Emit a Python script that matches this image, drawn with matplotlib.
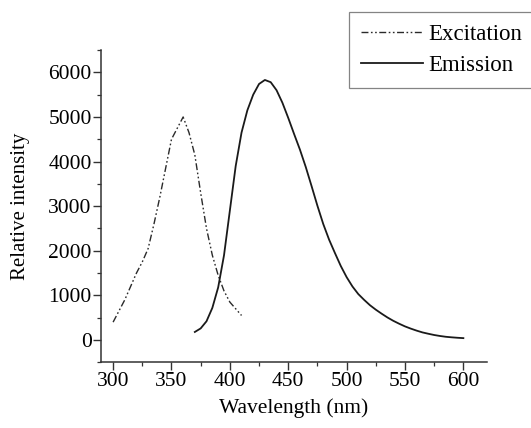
import matplotlib
matplotlib.use("Agg")
import matplotlib.pyplot as plt
from matplotlib.ticker import MultipleLocator

plt.rcParams['font.family'] = ['Liberation Serif', 'DejaVu Serif']

# Excitation spectrum
exc_wl = [300, 305, 310, 315, 320, 325, 330, 335, 340, 345, 350, 355, 360,
          365, 370, 375, 380, 385, 390, 395, 400, 405, 410]
exc_int = [400, 650, 900, 1200, 1500, 1750, 2050, 2600, 3200, 3850, 4500, 4750, 5000,
           4650, 4150, 3300, 2500, 1900, 1450, 1100, 850, 700, 550]

# Emission spectrum
em_wl = [370, 375, 380, 385, 390, 395, 400, 405, 410, 415, 420, 425, 430, 435,
         440, 445, 450, 455, 460, 465, 470, 475, 480, 485, 490, 495, 500, 505,
         510, 515, 520, 525, 530, 535, 540, 545, 550, 555, 560, 565, 570, 575,
         580, 585, 590, 595, 600]
em_int = [180, 260, 420, 720, 1180, 1900, 2900, 3900, 4650, 5150, 5500, 5740, 5830, 5780,
          5600, 5320, 4980, 4620, 4270, 3880, 3450, 3010, 2600, 2250, 1950, 1660, 1410, 1200,
          1030, 900, 780, 680, 590, 505, 430, 365, 305, 255, 210, 170, 140, 112,
          90, 72, 60, 50, 42]

x_ticks = [300, 350, 400, 450, 500, 550, 600]
y_ticks = [0, 1000, 2000, 3000, 4000, 5000, 6000]

fig = plt.figure(figsize=(5.31, 4.28), dpi=100)
ax = fig.add_axes([0.191, 0.1535, 0.7256, 0.7295])

ax.plot(exc_wl, exc_int, color='#2a2a2a', lw=1.0,
        linestyle=(0, (5, 1.8, 1.2, 1.8, 1.2, 1.8)), label='Excitation')
ax.plot(em_wl, em_int, color='#1a1a1a', lw=1.3, linestyle='-', label='Emission')

ax.set_xlim(290, 620)
ax.set_ylim(-500, 6500)
ax.set_xticks(x_ticks)
ax.set_yticks(y_ticks)
ax.xaxis.set_minor_locator(MultipleLocator(25))
ax.yaxis.set_minor_locator(MultipleLocator(500))

for s in ['top', 'right']:
    ax.spines[s].set_visible(False)
for s in ['left', 'bottom']:
    ax.spines[s].set_linewidth(1.1)
    ax.spines[s].set_color('#333333')

ax.tick_params(which='major', direction='out', length=5.5, width=1.0,
               color='#333333', labelsize=15.5, pad=1.5)
ax.tick_params(which='minor', direction='out', length=3, width=0.9, color='#333333')

ax.set_xlabel('Wavelength (nm)', fontsize=15.5, labelpad=5)
ax.set_ylabel('Relative intensity', fontsize=15, labelpad=13)

leg = fig.legend(loc='upper left', bbox_to_anchor=(349.3 / 531, 1 - 12.3 / 428),
                 borderaxespad=0, fontsize=16.5, frameon=True, fancybox=False,
                 handlelength=2.7, handletextpad=0.25, labelspacing=0.45,
                 borderpad=0.5)
leg.get_frame().set_edgecolor('#666666')
leg.get_frame().set_linewidth(0.9)

fig.savefig('out.png', dpi=100, facecolor='white')
